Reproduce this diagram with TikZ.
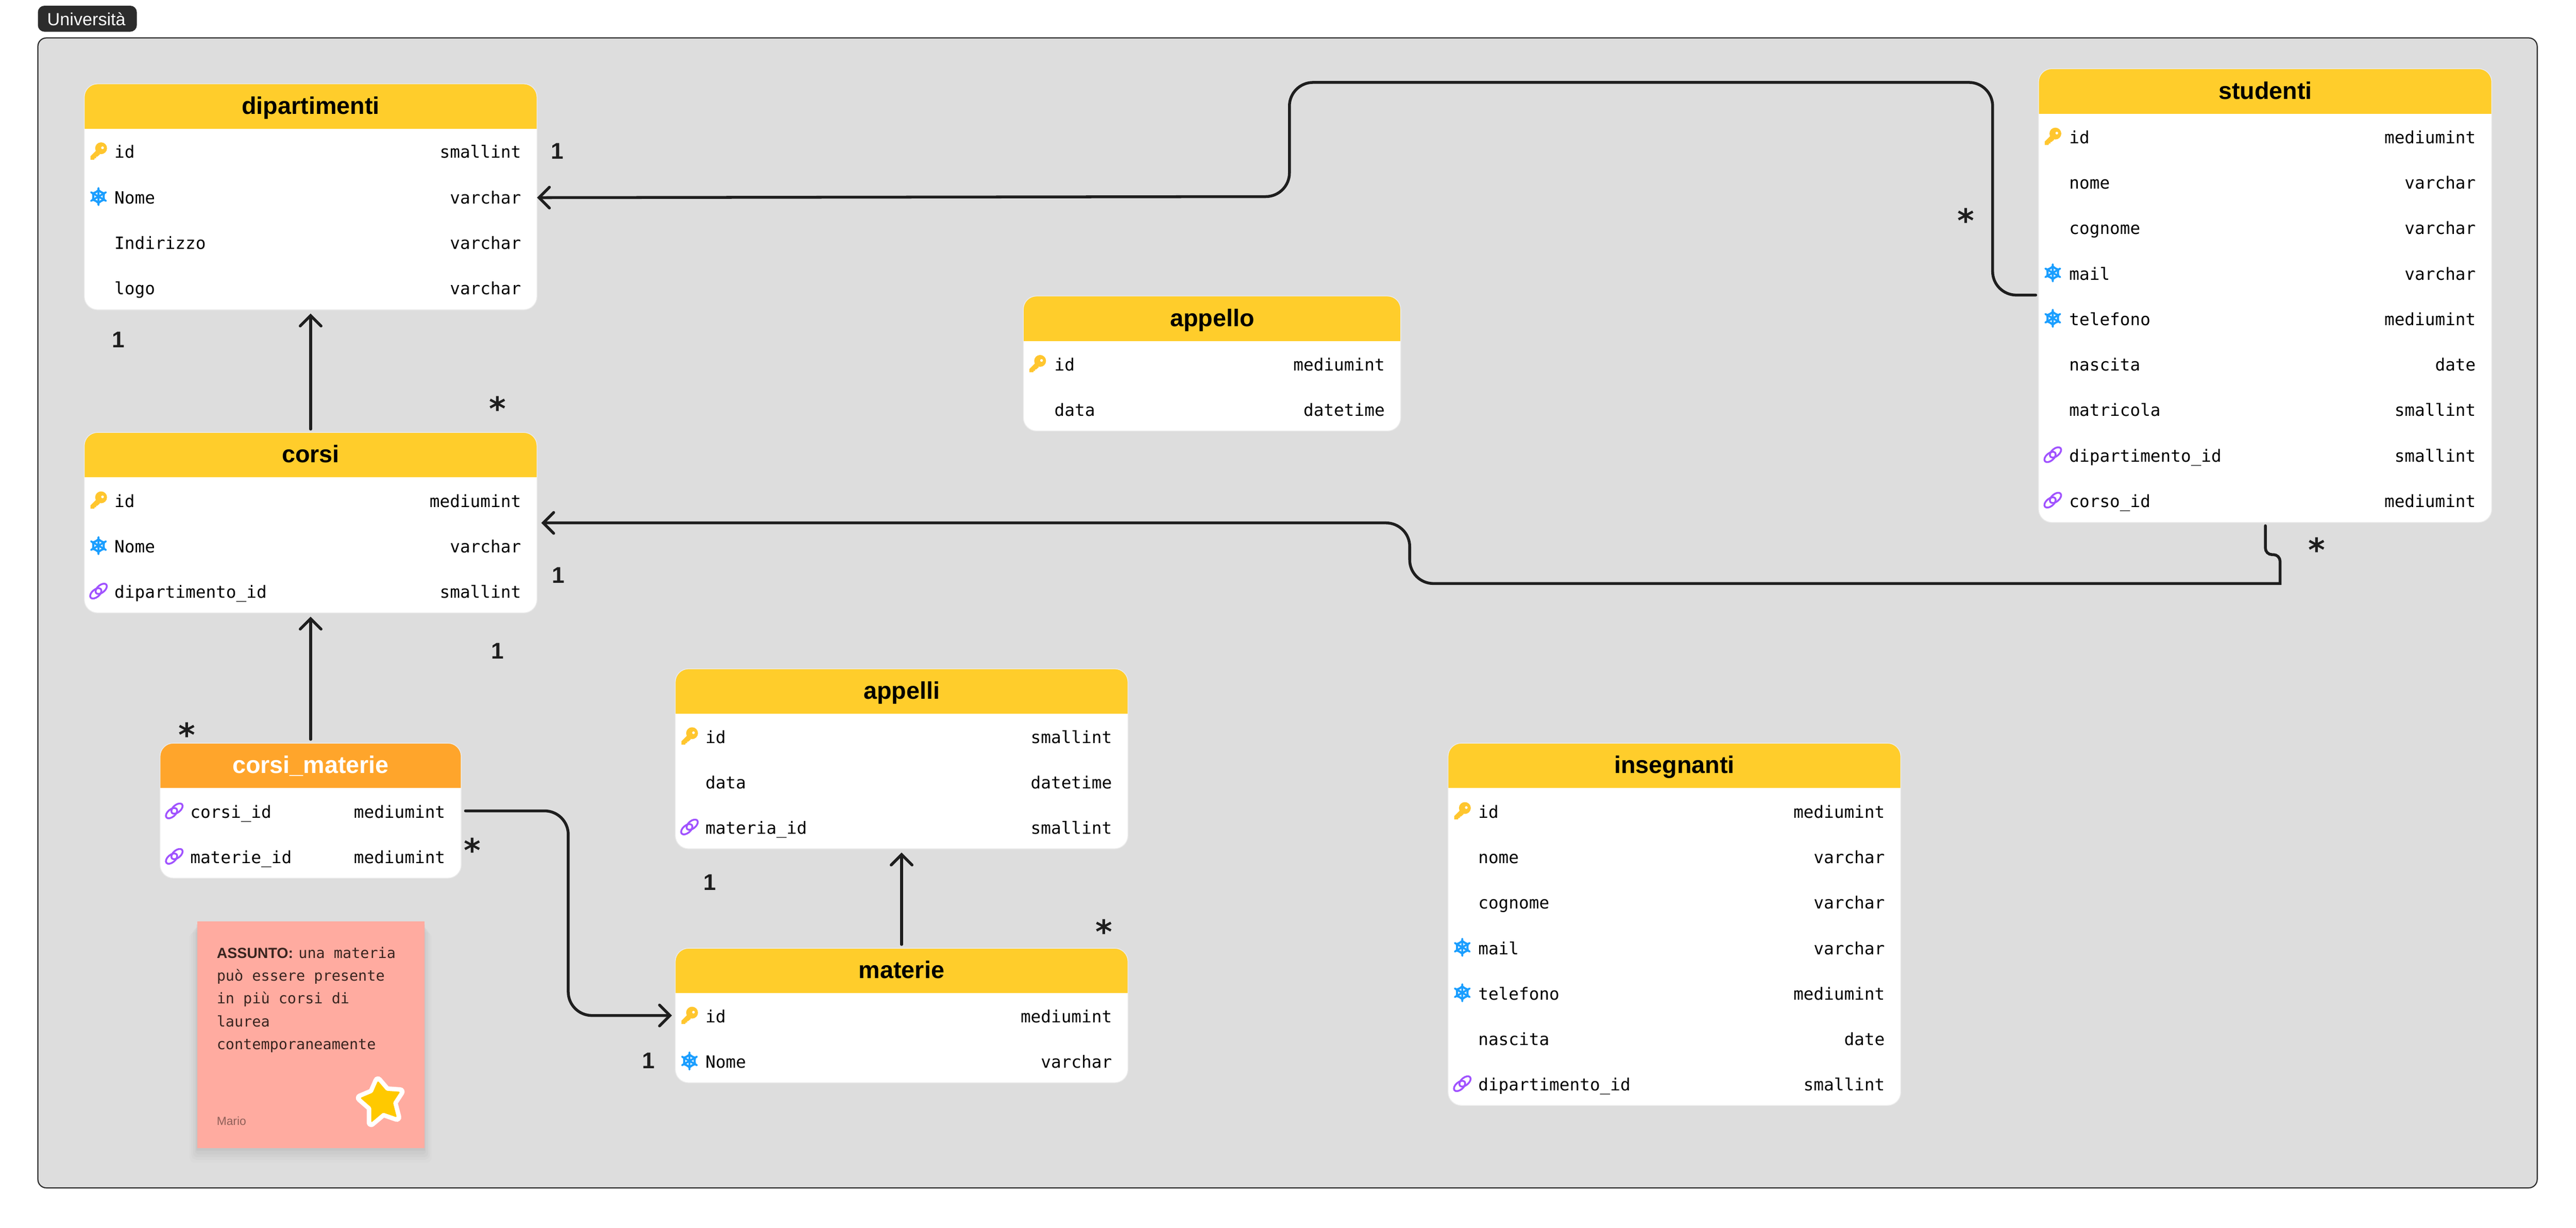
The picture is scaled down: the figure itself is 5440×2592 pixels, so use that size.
\documentclass[tikz,border=0pt]{standalone}
\usepackage{fontspec}
\setmainfont{Liberation Sans}
\setmonofont{DejaVu Sans Mono}
\newfontfamily\manyfont{DejaVu Sans}
\usetikzlibrary{arrows.meta}
\definecolor{yhead}{HTML}{FFCD2B}
\definecolor{ohead}{HTML}{FFA52B}
\definecolor{framecol}{HTML}{DDDDDD}
\definecolor{darkcol}{HTML}{2C2C2C}
\definecolor{linecol}{HTML}{1E1E1E}
\definecolor{keycol}{HTML}{FFC62E}
\definecolor{snowcol}{HTML}{1A9EFF}
\definecolor{linkcol}{HTML}{A052FF}
\definecolor{notecol}{HTML}{FFABA0}
\definecolor{notetext}{HTML}{38241F}
\definecolor{signcol}{HTML}{8F5F58}
\definecolor{starcol}{HTML}{FFC900}
\tikzset{
  erbody/.style={anchor=north west,inner sep=0pt,outer sep=0pt,fill=white,draw=white!92!black,line width=0.4pt,rounded corners=7pt,
    path picture={\fill[#1,sharp corners] (path picture bounding box.north west) rectangle ([yshift=-23.75pt]path picture bounding box.north east);}},
  ertitle/.style={anchor=base,inner sep=0pt,font=\bfseries\fontsize{12.7}{13}\selectfont},
  fname/.style={anchor=base west,inner sep=0pt,yshift=-3.75pt,font=\ttfamily\fontsize{8.9}{9}\selectfont},
  ftype/.style={anchor=base east,inner sep=0pt,yshift=-3.75pt,font=\ttfamily\fontsize{8.9}{9}\selectfont},
  onelab/.style={inner sep=0pt,text=linecol,font=\bfseries\fontsize{12}{12}\selectfont},
  manylab/.style={inner sep=0pt,yshift=-1.75pt,text=linecol,font=\manyfont\bfseries\fontsize{17}{17}\selectfont},
  rel/.style={draw=linecol,line width=1.5pt,line cap=round,-{Straight Barb[length=5.5pt,width=11pt,line cap=round]}},
  pics/keyicon/.style={code={
    \fill[keycol,even odd rule] (5.5,-6) circle (12.5) (8.5,-7) circle (3);
    \fill[keycol] (-17,11) -- (-5,-1) -- (3,7) -- (-3,12) -- (-5,12) -- (-5,15) -- (-8,15) -- (-9,18) -- (-17,18) -- cycle;
  }},
  pics/snowicon/.style={code={
    \foreach \a in {30,90,150,210,270,330}{
      \begin{scope}[rotate=\a]
        \draw[snowcol,line width=1.05pt,line cap=round] (0,0) -- (18,0) (9,-6) -- (13.5,0) -- (9,6);
      \end{scope}
    }
  }},
  pics/linkicon/.style={code={
    \draw[linkcol,line width=0.95pt,rotate=40] (-7.5,0) ellipse (14 and 8);
    \draw[linkcol,line width=0.95pt,rotate=40] (7.5,0) ellipse (14 and 8);
  }}
}
\begin{document}
\begin{tikzpicture}[x=0.25pt,y=-0.25pt]
\useasboundingbox (0,0) rectangle (5440,2592);
% frame
\draw[fill=framecol,draw=darkcol,line width=0.6pt,rounded corners=4.5pt] (80,80) rectangle (5358,2508);
\fill[darkcol,rounded corners=3.5pt] (80,12) rectangle (289,67);
\node[inner sep=0pt,anchor=base west,text=white,font=\fontsize{9.3}{10}\selectfont] (unilab) at (99,54) {Università};
% dipartimenti
\node[erbody=yhead,minimum width=239pt,minimum height=119.25pt] (dip) at (178,177) {};
\node[ertitle] (diptitle) at (656,241) {dipartimenti};
\pic at (208,319) {keyicon};
\node[fname] (dipid) at (241,319) {id};
\node[ftype] (dipidt) at (1101,319) {smallint};
\pic at (208,415) {snowicon};
\node[fname] (dipnome) at (241,415) {Nome};
\node[ftype] (dipnomet) at (1101,415) {varchar};
\node[fname] (dipind) at (241,511) {Indirizzo};
\node[ftype] (dipindt) at (1101,511) {varchar};
\node[fname] (diplogo) at (241,607) {logo};
\node[ftype] (diplogot) at (1101,607) {varchar};
% corsi
\node[erbody=yhead,minimum width=239pt,minimum height=95.25pt] (cor) at (178,913) {};
\node[ertitle] (cortitle) at (656,977) {corsi};
\pic at (208,1056) {keyicon};
\node[fname] (corid) at (241,1056) {id};
\node[ftype] (coridt) at (1101,1056) {mediumint};
\pic at (208,1152) {snowicon};
\node[fname] (cornome) at (241,1152) {Nome};
\node[ftype] (cornomet) at (1101,1152) {varchar};
\pic at (208,1248) {linkicon};
\node[fname] (cordip) at (241,1248) {dipartimento\_id};
\node[ftype] (cordipt) at (1101,1248) {smallint};
% corsi_materie
\node[erbody=ohead,minimum width=159pt,minimum height=71.25pt] (cma) at (338,1569) {};
\node[ertitle,text=white] (cmatitle) at (656,1633) {corsi\_materie};
\pic at (368,1712) {linkicon};
\node[fname] (cmacor) at (401,1712) {corsi\_id};
\node[ftype] (cmacort) at (941,1712) {mediumint};
\pic at (368,1808) {linkicon};
\node[fname] (cmamat) at (401,1808) {materie\_id};
\node[ftype] (cmamatt) at (941,1808) {mediumint};
% appelli
\node[erbody=yhead,minimum width=239pt,minimum height=95pt] (apl) at (1426,1412) {};
\node[ertitle] (apltitle) at (1904,1476) {appelli};
\pic at (1456,1554) {keyicon};
\node[fname] (aplid) at (1489,1554) {id};
\node[ftype] (aplidt) at (2349,1554) {smallint};
\node[fname] (apldata) at (1489,1650) {data};
\node[ftype] (apldatat) at (2349,1650) {datetime};
\pic at (1456,1746) {linkicon};
\node[fname] (aplmat) at (1489,1746) {materia\_id};
\node[ftype] (aplmatt) at (2349,1746) {smallint};
% materie
\node[erbody=yhead,minimum width=239pt,minimum height=71pt] (mat) at (1426,2002) {};
\node[ertitle] (mattitle) at (1904,2066) {materie};
\pic at (1456,2144) {keyicon};
\node[fname] (matid) at (1489,2144) {id};
\node[ftype] (matidt) at (2349,2144) {mediumint};
\pic at (1456,2240) {snowicon};
\node[fname] (matnome) at (1489,2240) {Nome};
\node[ftype] (matnomet) at (2349,2240) {varchar};
% appello
\node[erbody=yhead,minimum width=199.25pt,minimum height=71.25pt] (apo) at (2161,625) {};
\node[ertitle] (apotitle) at (2560,689) {appello};
\pic at (2191,768) {keyicon};
\node[fname] (apoid) at (2226,768) {id};
\node[ftype] (apoidt) at (2925,768) {mediumint};
\node[fname] (apodata) at (2226,864) {data};
\node[ftype] (apodatat) at (2925,864) {datetime};
% insegnanti
\node[erbody=yhead,minimum width=239pt,minimum height=191.25pt] (ins) at (3058,1569) {};
\node[ertitle] (institle) at (3536,1633) {insegnanti};
\pic at (3088,1712) {keyicon};
\node[fname] (insid) at (3121,1712) {id};
\node[ftype] (insidt) at (3981,1712) {mediumint};
\node[fname] (insnome) at (3121,1808) {nome};
\node[ftype] (insnomet) at (3981,1808) {varchar};
\node[fname] (inscog) at (3121,1904) {cognome};
\node[ftype] (inscogt) at (3981,1904) {varchar};
\pic at (3088,2000) {snowicon};
\node[fname] (insmail) at (3121,2000) {mail};
\node[ftype] (insmailt) at (3981,2000) {varchar};
\pic at (3088,2096) {snowicon};
\node[fname] (instel) at (3121,2096) {telefono};
\node[ftype] (instelt) at (3981,2096) {mediumint};
\node[fname] (insnas) at (3121,2192) {nascita};
\node[ftype] (insnast) at (3981,2192) {date};
\pic at (3088,2288) {linkicon};
\node[fname] (insdip) at (3121,2288) {dipartimento\_id};
\node[ftype] (insdipt) at (3981,2288) {smallint};
% studenti
\node[erbody=yhead,minimum width=239.25pt,minimum height=239.5pt] (stu) at (4305,145) {};
\node[ertitle] (stutitle) at (4784,209) {studenti};
\pic at (4335,288) {keyicon};
\node[fname] (stuid) at (4369,288) {id};
\node[ftype] (stuidt) at (5229,288) {mediumint};
\node[fname] (stunome) at (4369,384) {nome};
\node[ftype] (stunomet) at (5229,384) {varchar};
\node[fname] (stucog) at (4369,480) {cognome};
\node[ftype] (stucogt) at (5229,480) {varchar};
\pic at (4335,576) {snowicon};
\node[fname] (stumail) at (4369,576) {mail};
\node[ftype] (stumailt) at (5229,576) {varchar};
\pic at (4335,672) {snowicon};
\node[fname] (stutel) at (4369,672) {telefono};
\node[ftype] (stutelt) at (5229,672) {mediumint};
\node[fname] (stunas) at (4369,768) {nascita};
\node[ftype] (stunast) at (5229,768) {date};
\node[fname] (stumat) at (4369,864) {matricola};
\node[ftype] (stumatt) at (5229,864) {smallint};
\pic at (4335,960) {linkicon};
\node[fname] (studip) at (4369,960) {dipartimento\_id};
\node[ftype] (studipt) at (5229,960) {smallint};
\pic at (4335,1056) {linkicon};
\node[fname] (stucor) at (4369,1056) {corso\_id};
\node[ftype] (stucort) at (5229,1056) {mediumint};
% connectors
\coordinate (stuout) at (4299,623);
\coordinate (stuend) at (4784,1110);
\coordinate (corend) at (1143,1104);
\coordinate (cmaout) at (983,1712);
\coordinate (matend) at (1419,2144);
\draw[rel,rounded corners=12.5pt] (stuout) -- (4208,623) -- (4208,174) -- (2723,174) -- (2723,415) -- (dip.east |- dipnome);
\draw[rel] (stuend) [rounded corners=3.5pt] -- (4784,1171) -- (4815,1171) [sharp corners] -- (4815,1232) [rounded corners=12.5pt] -- (2977,1232) -- (2977,1104) -- (corend);
\draw[rel,shorten <=1.75pt,shorten >=2pt] (cor.north) -- (dip.south);
\draw[rel,shorten <=2pt,shorten >=2pt] (cma.north) -- (cor.south);
\draw[rel,rounded corners=12.5pt] (cmaout) -- (1200,1712) -- (1200,2144) -- (matend);
\draw[rel,shorten <=2pt,shorten >=2pt] (mat.north) -- (apl.south);
% cardinalities
\node[onelab] (dipone) at (1177,319) {1};
\node[onelab] (diptwo) at (250,717) {1};
\node[manylab] (corstar) at (1051,855) {*};
\node[onelab] (corone) at (1179,1215) {1};
\node[onelab] (cortwo) at (1051,1374) {1};
\node[manylab] (cmastar) at (395,1544) {*};
\node[manylab] (cmaright) at (997,1787) {*};
\node[onelab] (aplone) at (1499,1863) {1};
\node[manylab] (matstar) at (2331,1959) {*};
\node[onelab] (matone) at (1370,2239) {1};
\node[manylab] (stustar) at (4152,458) {*};
\node[manylab] (stubot) at (4892,1153) {*};
% note
\fill[black,opacity=0.012,rounded corners=3pt] (400,1968) rectangle (912,2455);
\fill[black,opacity=0.015,rounded corners=3pt] (404,1964) rectangle (908,2449);
\fill[black,opacity=0.02,rounded corners=2pt] (408,1960) rectangle (904,2443);
\fill[black,opacity=0.025,rounded corners=2pt] (412,1956) rectangle (900,2437);
\fill[black,opacity=0.03] (414,1952) rectangle (898,2430);
\node[anchor=north west,inner sep=0pt,fill=notecol,minimum width=120pt,minimum height=119.75pt] (nota) at (416,1944) {};
\node[anchor=north west,inner sep=0pt,align=left,text=notetext,font=\ttfamily\fontsize{7.75}{12}\selectfont] (notatext) at (457,1999) {{\rmfamily\bfseries ASSUNTO:}\hspace{2.8pt}una materia\\può essere presente\\in più corsi di\\laurea\\contemporaneamente};
\node[anchor=base west,inner sep=0pt,text=signcol,font=\fontsize{6.2}{7}\selectfont] (notasign) at (457,2376) {Mario};
\draw[draw=white,fill=white,line width=4.75pt,line join=round] (798,2282) -- (816,2303) -- (845,2305) -- (830,2328) -- (838,2359) -- (809,2349) -- (784,2370) -- (784,2338) -- (761,2318) -- (787,2307) -- cycle;
\fill[starcol,rounded corners=0.5pt] (798,2282) -- (816,2303) -- (845,2305) -- (830,2328) -- (838,2359) -- (809,2349) -- (784,2370) -- (784,2338) -- (761,2318) -- (787,2307) -- cycle;
\end{tikzpicture}
\end{document}
